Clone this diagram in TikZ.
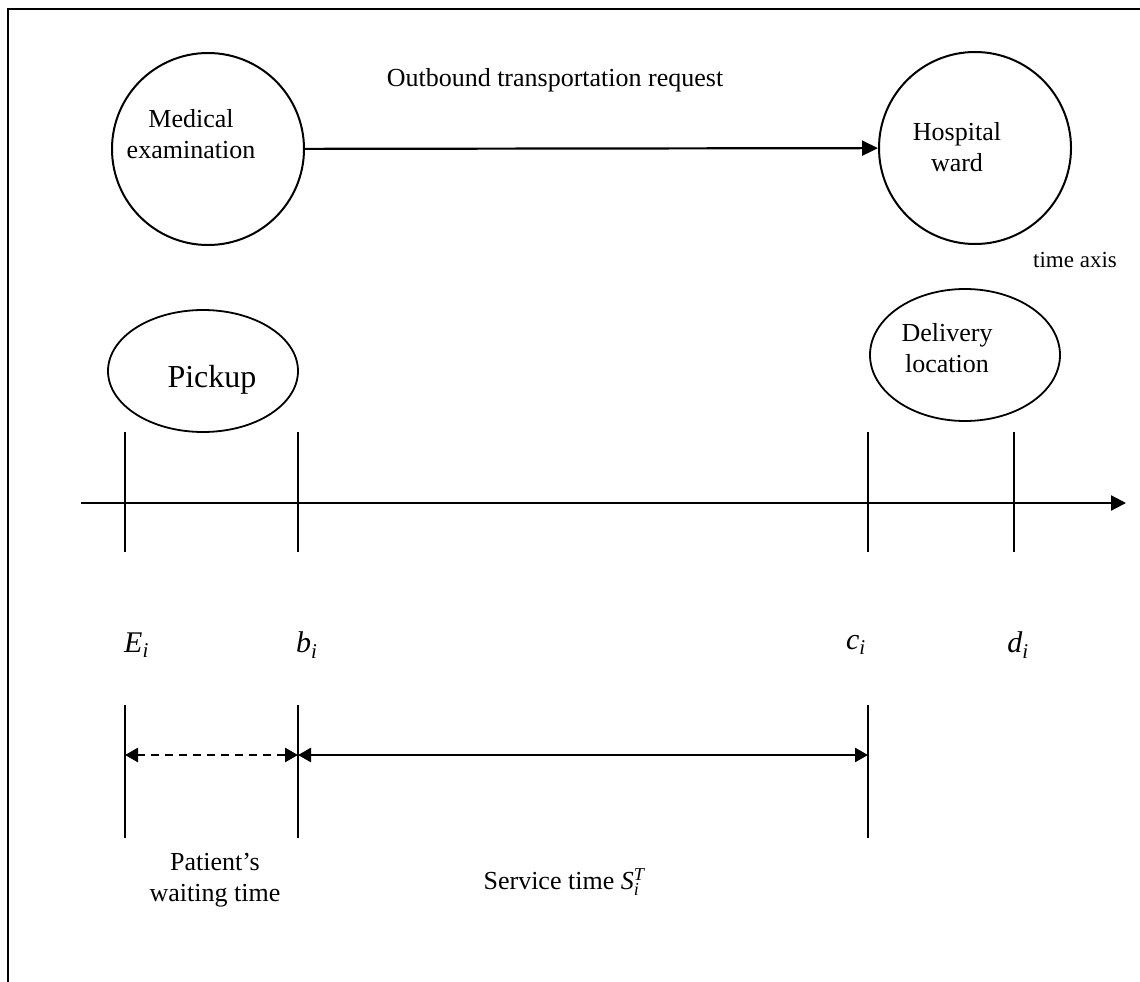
\documentclass[tikz,border=0pt]{standalone}
\usepackage{fontspec}
\setmainfont{Liberation Serif}
\usetikzlibrary{arrows.meta,shapes.geometric}

\begin{document}
\begin{tikzpicture}[x=1pt,y=-1pt,
  every node/.style={inner sep=0pt, align=center, font=\fontsize{26}{31}\selectfont},
  placecircle/.style={draw, circle, line width=2pt, minimum size=192pt},
  stopoval/.style={draw, ellipse, line width=1.8pt, minimum width=190pt},
  tickline/.style={line width=1.6pt},
  flow/.style={line width=2.2pt, -{Triangle[length=16pt,width=15pt]}},
  axisline/.style={line width=2.2pt, -{Triangle[length=15pt,width=15pt]}},
  span/.style={line width=2.6pt, {Triangle[length=13pt,width=14pt]}-{Triangle[length=13pt,width=14pt]}},
  marklabel/.style={font=\fontsize{30}{36}\selectfont\itshape},
]
\useasboundingbox (0,0) rectangle (1140,982);

% outer frame (top and left edges)
\draw[line width=2pt] (8,982) -- (8,9) -- (1140,9);

% request between the two places
\node[placecircle] (exam) at (208,149) {};
\node (examtxt) at (191,134) {Medical\\examination};
\node[placecircle] (ward) at (975,148) {};
\node (wardtxt) at (957,147) {Hospital\\ward};
\node (reqtxt) at (555,80) {Outbound transportation request};
\draw[flow] (exam) -- (ward);

\node[font=\fontsize{23}{28}\selectfont] (axistxt) at (1075,260) {time axis};

% pickup and delivery stops
\node[stopoval, minimum height=122pt] (pickup) at (203,371) {};
\node[font=\fontsize{32}{38}\selectfont] (pickuptxt) at (212,380) {Pickup};
\node[stopoval, minimum height=132pt] (deliv) at (965,355) {};
\node (delivtxt) at (947,348) {Delivery\\location};

% time axis with event marks
\coordinate (axS) at (81,503);
\coordinate (axE) at (1126,503);
\draw[axisline] (axS) -- (axE);

\foreach \n/\x in {E/125, b/298, c/868, d/1014}{
  \coordinate (\n top) at (\x,432);
  \coordinate (\n bot) at (\x,552);
  \draw[tickline] (\n top) -- (\n bot);
}

\node[marklabel, anchor=west] (lE) at (124,645) {E\textsubscript{i}};
\node[marklabel, anchor=west] (lb) at (296,645) {b\textsubscript{i}};
\node[marklabel, anchor=east] (lc) at (866,645) {c\textsubscript{i}};
\node[marklabel] (ld) at (1018,645) {d\textsubscript{i}};

% interval marks
\foreach \n/\x in {E/125, b/298, c/868}{
  \coordinate (\n up) at (\x,705);
  \coordinate (\n dn) at (\x,838);
  \draw[tickline] (\n up) -- (\n dn);
}
\coordinate (wE) at (125,755);
\coordinate (wB) at (298,755);
\coordinate (wC) at (868,755);
\draw[span, dash pattern=on 8pt off 6pt] (wE) -- (wB);
\draw[span] (wB) -- (wC);

\node (waittxt) at (215,880) {Patient’s\\waiting time};
\node (servtxt) at (564,882) {Service time $\mathit{S}_{\mathit{i}}^{\mathit{T}}$};
\end{tikzpicture}
\end{document}
